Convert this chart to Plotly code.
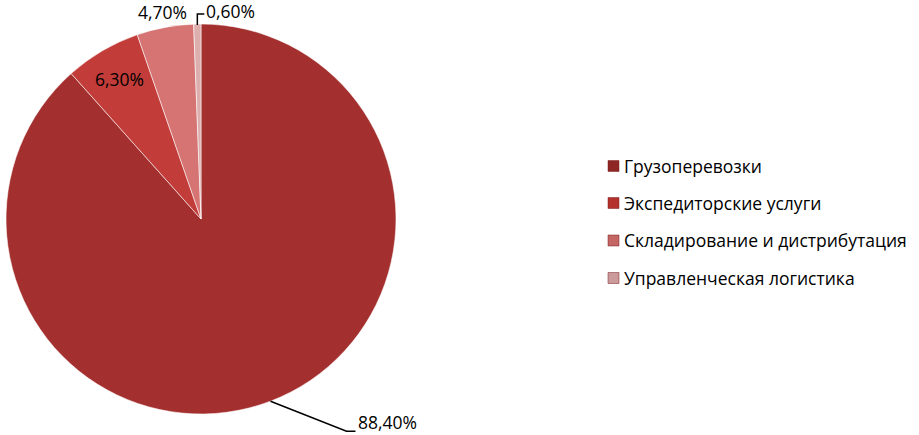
import math
import plotly.graph_objects as go

labels = ["Грузоперевозки", "Экспедиторские услуги", "Складирование и дистрибутация", "Управленческая логистика"]
values = [88.4, 6.3, 4.7, 0.6]
colors = ["#A3302E", "#C23C39", "#D57472", "#DDAEAE"]
legend_colors = ["#8E2624", "#B3302D", "#C46664", "#CB9A9A"]

W, H = 919, 435
CX, CY, R = 201, 219, 195
FONT = "Open Sans"
FS = 17.5

fig = go.Figure(go.Pie(
    labels=labels, values=values, sort=False, direction="clockwise", rotation=0,
    marker=dict(colors=colors, line=dict(color="rgba(255,255,255,0.55)", width=1)),
    textinfo="none", hoverinfo="label+percent", showlegend=False,
    domain=dict(x=[(CX - R) / W, (CX + R) / W], y=[1 - (CY + R) / H, 1 - (CY - R) / H]),
))

def px(x, y):
    return x / W, 1 - y / H

total = sum(values)
cum = 0
mids = []
for v in values:
    mids.append((cum + v / 2) / total * 2 * math.pi)
    cum += v

def pt(theta, rr):
    return CX + rr * math.sin(theta), CY - rr * math.cos(theta)

def fmt(v):
    return f"{v:.2f}".replace(".", ",") + "%"

annotations = []
shapes = []

def add_text(xp, yp, text, xanchor="center", size=FS):
    x, y = px(xp, yp)
    annotations.append(dict(x=x, y=y, xref="paper", yref="paper", text=text,
                            showarrow=False, xanchor=xanchor, yanchor="middle",
                            borderpad=0,
                            font=dict(family=FONT, size=size, color="black")))

# 88,40% with leader line
ex, ey = pt(mids[0], R)
bx, by = ex + 76, ey + 30
cx2 = bx + 9
shapes.append(dict(type="path", xref="paper", yref="paper",
                   path=f"M {ex/W} {1-ey/H} L {bx/W} {1-by/H} L {cx2/W} {1-by/H}",
                   line=dict(color="black", width=1.5)))
add_text(cx2 + 1, by - 9, fmt(values[0]), "left")

# 6,30% inside
add_text(*pt(mids[1], 0.83 * R), fmt(values[1]))

# 4,70% outside
add_text(*pt(mids[2], 1.08 * R), fmt(values[2]))

# 0,60% with leader
ex, ey = pt(mids[3], R - 1)
ty = ey - 11
shapes.append(dict(type="path", xref="paper", yref="paper",
                   path=f"M {ex/W} {1-ey/H} L {ex/W} {1-ty/H} L {(ex+7)/W} {1-ty/H}",
                   line=dict(color="black", width=1.5)))
add_text(ex + 8, ty - 3, fmt(values[3]), "left")

# legend
row_y = [166, 203, 240.5, 278]
for lab, col, ry in zip(labels, legend_colors, row_y):
    shapes.append(dict(type="rect", xref="paper", yref="paper",
                       x0=608 / W, x1=619 / W, y0=1 - (ry + 5.5) / H, y1=1 - (ry - 5.5) / H,
                       fillcolor=col, line=dict(color="#7A1E1E", width=0.5)))
    add_text(623, ry, lab, "left")

fig.update_layout(
    width=W, height=H, margin=dict(l=0, r=0, t=0, b=0),
    paper_bgcolor="white", plot_bgcolor="white",
    annotations=annotations, shapes=shapes, separators=",.",
)
fig.write_html("out.html", config={"displayModeBar": False},
               post_script="document.body.style.margin='0';document.body.style.overflow='hidden';")
